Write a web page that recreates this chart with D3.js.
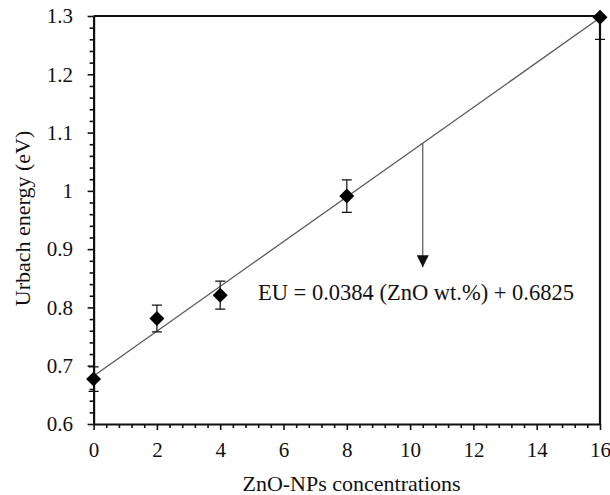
<!DOCTYPE html>
<html>
<head>
<meta charset="utf-8">
<script src="https://cdn.jsdelivr.net/npm/d3@7"></script>
<style>
  body{margin:0;background:#fff;}
</style>
</head>
<body>
<script>
const width = 610;
const height = 495;
const marginLeft = 93.6;
const marginRight = 10;
const marginTop = 16;
const marginBottom = 71;
const serif = '"Liberation Serif"';

// data
const concentrations = [0, 2, 4, 8, 16];
const urbach = [0.677, 0.781, 0.821, 0.991, 1.298];
const errors = [0.021, 0.023, 0.024, 0.028, 0.038];
const xTicks = [0, 2, 4, 6, 8, 10, 12, 14, 16];
const yTicks = [0.6, 0.7, 0.8, 0.9, 1, 1.1, 1.2, 1.3];
const slope = 0.0384;
const intercept = 0.6825;
const arrowAt = 10.4;
const arrowTo = 0.869;

const points = concentrations.map((c, i) => ({x: c, y: urbach[i], e: errors[i]}));

const svg = d3.select('body').append('svg')
  .attr('width', width)
  .attr('height', height);

const x = d3.scaleLinear().domain([0, 16]).range([marginLeft, width - marginRight]);
const y = d3.scaleLinear().domain([0.6, 1.3]).range([height - marginBottom, marginTop]);

svg.append('defs').append('clipPath').attr('id', 'plot')
  .append('rect')
  .attr('x', x(0) - 20).attr('y', y(1.3))
  .attr('width', x(16) - x(0) + 40).attr('height', y(0.6) - y(1.3) + 20);

svg.select('defs').append('marker')
  .attr('id', 'head')
  .attr('viewBox', '0 0 10 10')
  .attr('refX', 10).attr('refY', 5)
  .attr('markerWidth', 12).attr('markerHeight', 12)
  .attr('markerUnits', 'userSpaceOnUse')
  .attr('orient', 'auto')
  .append('path').attr('d', 'M0,0L10,5L0,10Z').attr('fill', '#111');

// minor ticks
const xMinor = d3.range(0, 16.01, 0.4).filter(v => Math.abs(v / 2 - Math.round(v / 2)) > 0.01);
const yMinor = d3.range(0.6, 1.301, 0.02).filter(v => Math.abs(v * 10 - Math.round(v * 10)) > 0.01);

svg.append('g')
  .attr('transform', `translate(0,${y(0.6)})`)
  .call(d3.axisBottom(x).tickValues(xMinor).tickSize(4).tickSizeOuter(0).tickFormat(''))
  .call(g => g.select('.domain').remove())
  .selectAll('line').attr('stroke', '#111').attr('stroke-width', 1.6);

svg.append('g')
  .attr('transform', `translate(${x(0)},0)`)
  .call(d3.axisLeft(y).tickValues(yMinor).tickSize(4).tickSizeOuter(0).tickFormat(''))
  .call(g => g.select('.domain').remove())
  .selectAll('line').attr('stroke', '#111').attr('stroke-width', 1.6);

const xAxis = svg.append('g')
  .attr('transform', `translate(0,${y(0.6)})`)
  .call(d3.axisBottom(x).tickValues(xTicks).tickSize(6).tickSizeOuter(0).tickPadding(12).tickFormat(d3.format('d')));

const yAxis = svg.append('g')
  .attr('transform', `translate(${x(0)},0)`)
  .call(d3.axisLeft(y).tickValues(yTicks).tickSize(6).tickSizeOuter(0).tickPadding(14.5).tickFormat(d => String(+d.toFixed(1))));

[xAxis, yAxis].forEach(a => {
  a.select('.domain').attr('stroke', '#111').attr('stroke-width', 2.2);
  a.selectAll('line').attr('stroke', '#111').attr('stroke-width', 1.6);
  a.selectAll('text')
    .attr('fill', '#111')
    .style('font-family', serif)
    .style('font-size', '21px');
});

// top and right border
svg.append('path')
  .attr('d', `M${x(0)},${y(1.3)}H${x(16)}V${y(0.6)}`)
  .attr('fill', 'none')
  .attr('stroke', '#111')
  .attr('stroke-width', 2.2);

// fit line
svg.append('line')
  .attr('x1', x(0)).attr('y1', y(intercept))
  .attr('x2', x(16)).attr('y2', y(intercept + slope * 16))
  .attr('stroke', '#5a5a5a')
  .attr('stroke-width', 1.3);

// arrow to equation
svg.append('line')
  .attr('x1', x(arrowAt)).attr('y1', y(intercept + slope * arrowAt))
  .attr('x2', x(arrowAt)).attr('y2', y(arrowTo))
  .attr('stroke', '#555')
  .attr('stroke-width', 1.2)
  .attr('marker-end', 'url(#head)');

svg.append('text')
  .attr('x', 258).attr('y', 300)
  .attr('fill', '#111')
  .style('font-family', serif)
  .style('font-size', '22.5px')
  .text('EU = 0.0384 (ZnO wt.%) + 0.6825');

// error bars
const bars = svg.append('g').attr('clip-path', 'url(#plot)')
  .selectAll('g').data(points).enter().append('g')
  .attr('stroke', '#111').attr('stroke-width', 1.2);

bars.append('line')
  .attr('x1', d => x(d.x)).attr('x2', d => x(d.x))
  .attr('y1', d => y(d.y - d.e)).attr('y2', d => y(d.y + d.e));
bars.append('line')
  .attr('x1', d => x(d.x) - 5).attr('x2', d => x(d.x) + 5)
  .attr('y1', d => y(d.y - d.e)).attr('y2', d => y(d.y - d.e));
bars.append('line')
  .attr('x1', d => x(d.x) - 5).attr('x2', d => x(d.x) + 5)
  .attr('y1', d => y(d.y + d.e)).attr('y2', d => y(d.y + d.e));

// diamonds
svg.selectAll('path.pt').data(points).enter().append('path')
  .attr('class', 'pt')
  .attr('d', d3.symbol().type(d3.symbolSquare).size(112))
  .attr('transform', d => `translate(${x(d.x)},${y(d.y)}) rotate(45)`)
  .attr('fill', '#000');

// axis titles
svg.append('text')
  .attr('x', 351.5).attr('y', 491)
  .attr('text-anchor', 'middle')
  .attr('fill', '#111')
  .style('font-family', serif)
  .style('font-size', '22px')
  .text('ZnO-NPs concentrations');

svg.append('text')
  .attr('transform', `translate(30,218.5) rotate(-90)`)
  .attr('text-anchor', 'middle')
  .attr('fill', '#111')
  .style('font-family', serif)
  .style('font-size', '22px')
  .text('Urbach energy (eV)');
</script>
</body>
</html>
